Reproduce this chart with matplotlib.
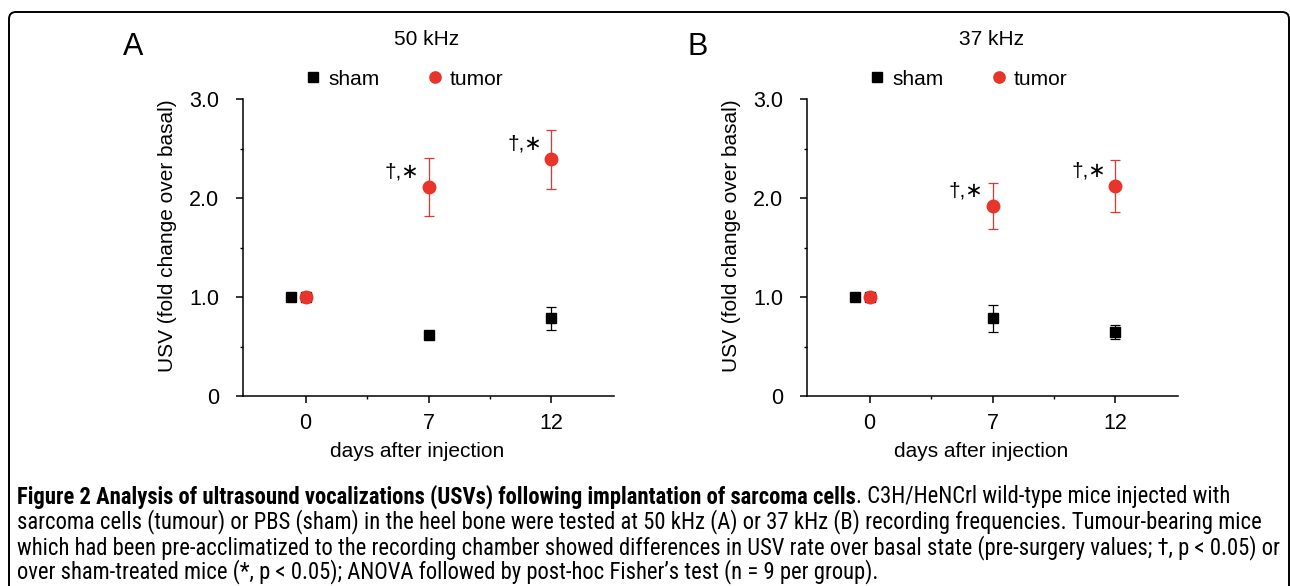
import matplotlib
matplotlib.use("Agg")
import matplotlib.pyplot as plt
from matplotlib import font_manager
from matplotlib.font_manager import FontProperties
from matplotlib.patches import FancyBboxPatch
from matplotlib.ticker import FixedLocator

# data
days = ["0", "7", "12"]
sham_x = [-0.12, 1, 2]
tumor_x = [0, 1, 2]

sham_a = [1.0, 0.62, 0.785]
sham_a_err = [0.0, 0.02, 0.115]
tumor_a = [1.0, 2.11, 2.39]
tumor_a_err = [0.0, 0.295, 0.295]

sham_b = [1.0, 0.785, 0.65]
sham_b_err = [0.0, 0.135, 0.07]
tumor_b = [1.0, 1.92, 2.12]
tumor_b_err = [0.0, 0.23, 0.26]

red = "#e8342b"
plt.rcParams["font.family"] = ["Liberation Sans", "DejaVu Sans"]

fig = plt.figure(figsize=(12.9, 5.86), dpi=100)

# rounded frame around the figure
frame = FancyBboxPatch((9, -30), 1280, 586 - 12 + 30, boxstyle="round,pad=0,rounding_size=7",
                       transform=None, fill=False, lw=1.4, ec="black")
fig.patches.append(frame)


def panel(left, letter, title, sham, sham_err, tumor, tumor_err):
    ax = fig.add_axes([left, 0.3242, 0.2876, 0.5068])
    # black square hidden under the red day-0 point
    ax.plot([tumor_x[0]], [tumor[0]], "s", color="black", ms=7.5, zorder=2)
    ax.errorbar(sham_x, sham, yerr=sham_err, fmt="none", ecolor="black",
                elinewidth=0.9, capsize=3.5, capthick=0.9, zorder=3)
    ax.errorbar(tumor_x, tumor, yerr=tumor_err, fmt="none", ecolor=red,
                elinewidth=0.9, capsize=3.5, capthick=0.9, zorder=4)
    ax.plot(sham_x, sham, "s", color="black", ms=7.5, ls="none", zorder=3, label="sham")
    ax.plot(tumor_x, tumor, "o", color=red, ms=9, ls="none", zorder=5, label="tumor")
    for x, y in zip(tumor_x[1:], tumor[1:]):
        ax.annotate("†,\u2217", (x, y), xytext=(-19, 11), textcoords="offset points",
                    ha="center", va="center", fontsize=15)
    ax.set_xlim(-0.51, 2.51)
    ax.set_ylim(0, 3)
    ax.set_xticks(range(len(days)))
    ax.set_xticklabels(days)
    ax.set_yticks([0, 1, 2, 3])
    ax.set_yticklabels(["0", "1.0", "2.0", "3.0"])
    ax.xaxis.set_minor_locator(FixedLocator([0.5, 1.5]))
    ax.yaxis.set_minor_locator(FixedLocator([0.5, 1.5, 2.5]))
    ax.tick_params(which="major", length=5, width=1.1, labelsize=15.5)
    ax.tick_params(which="minor", length=2.5, width=1.0)
    ax.tick_params(axis="y", which="major", pad=12)
    ax.tick_params(axis="x", which="major", pad=7)
    for s in ["top", "right"]:
        ax.spines[s].set_visible(False)
    for s in ["left", "bottom"]:
        ax.spines[s].set_linewidth(1.1)
    ax.set_xlabel("days after injection", fontsize=15)
    ax.xaxis.set_label_coords(0.47, -0.155)
    ax.set_ylabel("USV (fold change over basal)", fontsize=15)
    ax.yaxis.set_label_coords(-0.178, 0.54)
    ax.text(0.496, 1.2, title, transform=ax.transAxes, ha="center", va="center", fontsize=15)
    ax.legend(loc="center", bbox_to_anchor=(0.435, 1.067), ncol=2, frameon=False,
              fontsize=15, markerscale=0.9, handlelength=0.8, handletextpad=0.3,
              columnspacing=2.3, borderaxespad=0)
    fig.text(left - 0.085, 1 - 47 / 586, letter, ha="center", va="center", fontsize=22)
    return ax


panel(243 / 1290, "A", "50 kHz", sham_a, sham_a_err, tumor_a, tumor_a_err)
panel(807 / 1290, "B", "37 kHz", sham_b, sham_b_err, tumor_b, tumor_b_err)

# caption font: a narrow/condensed face if one is installed
cap_family, cap_stretch = "Liberation Sans", "normal"
found = {}
for f in font_manager.fontManager.ttflist:
    fn = f.fname.replace("-", "").replace("_", "")
    if ("Narrow" in fn or "Condensed" in fn) and "Semi" not in fn and "Extra" not in fn \
            and "Ultra" not in fn and "Mono" not in fn and "Serif" not in fn:
        found.setdefault(f.name, f.stretch)
for name in ["Liberation Sans Narrow", "Roboto Condensed", "Open Sans Condensed",
             "Noto Sans", "Open Sans", "Roboto", "DejaVu Sans"]:
    if name in found:
        cap_family, cap_stretch = name, found[name]
        break

bold_part = "Figure 2 Analysis of ultrasound vocalizations (USVs) following implantation of sarcoma cells"
lines = [
    ". C3H/HeNCrl wild-type mice injected with",
    "sarcoma cells (tumour) or PBS (sham) in the heel bone were tested at 50 kHz (A) or 37 kHz (B) recording frequencies. Tumour-bearing mice",
    "which had been pre-acclimatized to the recording chamber showed differences in USV rate over basal state (pre-surgery values; †, p < 0.05) or",
    "over sham-treated mice (*, p < 0.05); ANOVA followed by post-hoc Fisher\u2019s test (n = 9 per group).",
]
line_y = [497, 522, 548, 572]

fig.canvas.draw()
renderer = fig.canvas.get_renderer()
size = 12.0
regular = FontProperties(family=cap_family, stretch=cap_stretch, size=size)
bold = FontProperties(family=cap_family, stretch=cap_stretch, weight="bold", size=size)
t1 = fig.text(17 / 1290, 1 - line_y[0] / 586, bold_part, fontproperties=bold,
              va="center", ha="left")
t2 = fig.text(0, 1 - line_y[0] / 586, lines[0], fontproperties=regular,
              va="center", ha="left")
others = [fig.text(17 / 1290, 1 - y / 586, txt, fontproperties=regular, va="center", ha="left")
          for txt, y in zip(lines[1:], line_y[1:])]
widths = [t1.get_window_extent(renderer).width + t2.get_window_extent(renderer).width]
widths += [t.get_window_extent(renderer).width for t in others]
size = size * (1278 - 17) / max(widths)
for t in [t1, t2] + others:
    t.set_fontsize(size)
x_end = t1.get_window_extent(renderer).x1
t2.set_x(x_end / 1290)

fig.savefig("out.png", dpi=100)
